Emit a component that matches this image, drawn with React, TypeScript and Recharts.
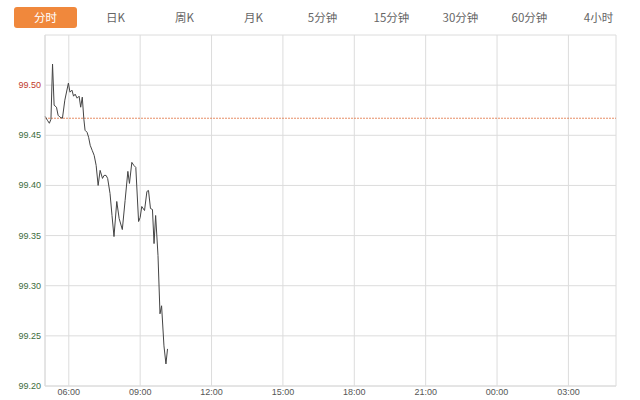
import { LineChart, Line, XAxis, YAxis, CartesianGrid, ReferenceLine } from 'recharts'

// minutes after 05:00
const minutes = [
  0, 6, 11, 15, 19, 23, 29, 33, 38, 44, 50, 59, 63, 68, 72, 76, 81, 86, 90, 94,
  98, 101, 106, 110, 114, 119, 124, 129, 134, 139, 145, 149, 154, 158, 164, 169,
  174, 181, 187, 195, 202, 209, 213, 219, 224, 229, 236, 240, 244, 251, 257, 261,
  266, 271, 275, 279, 285, 290, 294, 300, 305, 309,
]

const prices = [
  99.469, 99.465, 99.462, 99.466, 99.521, 99.48, 99.478, 99.47, 99.468, 99.467,
  99.485, 99.502, 99.493, 99.495, 99.489, 99.491, 99.487, 99.489, 99.478, 99.488,
  99.466, 99.455, 99.453, 99.448, 99.44, 99.435, 99.43, 99.42, 99.4, 99.415,
  99.407, 99.41, 99.41, 99.407, 99.392, 99.37, 99.349, 99.384, 99.367, 99.356,
  99.385, 99.414, 99.402, 99.423, 99.42, 99.418, 99.364, 99.368, 99.379, 99.375,
  99.394, 99.395, 99.377, 99.376, 99.342, 99.37, 99.33, 99.272, 99.28, 99.24,
  99.222, 99.237,
]

const prevClose = 99.467

const tabs = ['分时', '日K', '周K', '月K', '5分钟', '15分钟', '30分钟', '60分钟', '4小时']

const xTicks = [0, 60, 240, 420, 600, 780, 960, 1140, 1320, 1440]
const yTicks = [99.2, 99.25, 99.3, 99.35, 99.4, 99.45, 99.5, 99.55]

const data = minutes.map((t, i) => ({ t, price: prices[i] }))

const fmtTime = (m: number) => {
  if (m === 0 || m === 1440) return ''
  const h = (5 + Math.floor(m / 60)) % 24
  const mm = m % 60
  return `${String(h).padStart(2, '0')}:${String(mm).padStart(2, '0')}`
}

const YTick = (props: any) => {
  const { x, y, payload } = props
  const v = payload.value
  if (v > 99.54) return <g />
  return (
    <text x={x} y={y} dy={3} textAnchor="end" fontSize={9} fill={v > prevClose ? '#c0392b' : '#3d6b3d'}>
      {v.toFixed(2)}
    </text>
  )
}

export default function App() {
  return (
    <div
      style={{
        position: 'absolute',
        left: 0,
        top: 0,
        width: 640,
        height: 400,
        background: '#fff',
        fontFamily: '"Liberation Sans", "Noto Sans CJK SC", sans-serif',
      }}
    >
      {tabs.map((name, i) => (
        <div
          key={name}
          style={{
            position: 'absolute',
            top: 7,
            left: i === 0 ? 14 : 12 + i * 69,
            width: i === 0 ? 63 : 69,
            height: 21,
            lineHeight: '21px',
            textAlign: 'center',
            fontSize: 11.5,
            fontFamily: '"Noto Sans CJK SC", sans-serif',
            color: i === 0 ? '#fff' : '#666',
            background: i === 0 ? '#f0883c' : 'transparent',
            borderRadius: 3,
          }}
        >
          {name}
        </div>
      ))}
      <LineChart
        width={640}
        height={400}
        data={data}
        margin={{ top: 35, right: 24, bottom: 0, left: 0 }}
        style={{ fontFamily: '"Liberation Sans", sans-serif' }}
      >
        <CartesianGrid stroke="#dcdcdc" />
        <XAxis
          dataKey="t"
          type="number"
          domain={[0, 1440]}
          ticks={xTicks}
          tickFormatter={fmtTime}
          height={14}
          tickSize={0}
          tickMargin={3}
          tickLine={false}
          axisLine={{ stroke: '#dcdcdc' }}
          tick={{ fontSize: 9, fill: '#555' }}
          interval={0}
        />
        <YAxis
          type="number"
          domain={[99.2, 99.55]}
          ticks={yTicks}
          width={45}
          tickSize={0}
          tickMargin={4}
          tickLine={false}
          axisLine={{ stroke: '#dcdcdc' }}
          tick={<YTick />}
          interval={0}
        />
        <ReferenceLine y={prevClose} stroke="#e0703f" strokeDasharray="2 1" strokeOpacity={0.8} />
        <Line
          dataKey="price"
          stroke="#444"
          strokeWidth={1}
          dot={false}
          isAnimationActive={false}
          type="linear"
        />
      </LineChart>
    </div>
  )
}
